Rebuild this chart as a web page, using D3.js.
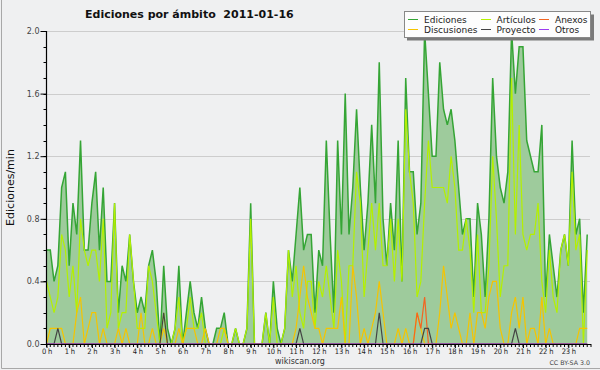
<!DOCTYPE html>
<html><head><meta charset="utf-8">
<script src="https://cdn.jsdelivr.net/npm/d3@7"></script>
<style>body{margin:0;background:#eff0f1;} svg{display:block;font-family:"DejaVu Sans",sans-serif;}</style>
</head><body>
<svg id="c" width="600" height="370"></svg>
<script>
// ---- data (one value per 10-minute slot, edits/min) ----
const hourLabels = ["0 h","1 h","2 h","3 h","4 h","5 h","6 h","7 h","8 h","9 h","10 h","11 h",
  "12 h","13 h","14 h","15 h","16 h","17 h","18 h","19 h","20 h","21 h","22 h","23 h"];
const yTicks = [0.0,0.4,0.8,1.2,1.6,2.0];
const titleText = "Ediciones por ámbito  2011-01-16";

const ediciones = [
 0.6,0.6,0.4,0.5,1.0,1.1,0.5,0.9,0.7,1.3,0.6,0.6,
 0.9,1.1,0.6,1.0,0.4,0.4,0.9,0.2,0.5,0.4,0.7,0.4,
 0.2,0.3,0.2,0.5,0.6,0.4,0.0,0.5,0.1,0.0,0.1,0.5,
 0.0,0.2,0.4,0.2,0.1,0.3,0.1,0.0,0.0,0.1,0.1,0.2,
 0.0,0.0,0.1,0.0,0.0,0.1,0.9,0.0,0.0,0.0,0.2,0.0,
 0.4,0.1,0.0,0.1,0.6,0.4,0.7,1.0,0.6,0.7,0.7,0.2,
 0.6,0.5,1.3,0.7,0.2,1.3,0.7,1.6,0.7,1.0,1.5,1.0,
 0.6,0.9,1.4,0.9,1.8,0.8,0.5,0.9,0.6,1.3,0.4,1.7,
 1.1,1.1,0.7,0.9,2.0,1.6,1.2,1.2,1.8,1.5,1.4,1.5,
 1.3,1.0,0.7,0.8,0.8,0.3,0.9,0.7,0.3,0.8,1.7,1.2,
 1.0,0.9,1.1,2.0,1.6,1.9,1.9,1.3,1.2,1.1,1.1,1.4,
 0.3,0.7,0.5,0.3,0.6,0.7,0.5,1.3,0.7,0.8,0.2,0.7];

const articulos = [
 0.4,0.3,0.2,0.3,0.7,0.6,0.3,0.5,0.2,0.8,0.6,0.5,
 0.6,0.6,0.4,0.8,0.1,0.2,0.9,0.1,0.2,0.2,0.7,0.4,
 0.1,0.1,0.1,0.5,0.4,0.2,0.0,0.2,0.0,0.0,0.1,0.3,
 0.0,0.1,0.3,0.1,0.1,0.2,0.0,0.0,0.0,0.0,0.0,0.1,
 0.0,0.0,0.1,0.0,0.0,0.1,0.8,0.0,0.0,0.0,0.2,0.0,
 0.3,0.0,0.0,0.1,0.6,0.3,0.5,0.2,0.1,0.4,0.4,0.1,
 0.4,0.3,0.5,0.3,0.1,0.6,0.4,0.0,0.5,0.5,1.1,0.9,
 0.3,0.6,0.9,0.6,0.9,0.5,0.5,0.8,0.4,0.8,0.4,1.5,
 1.1,0.9,0.3,0.4,0.9,1.3,1.0,1.0,1.0,1.0,0.9,1.2,
 1.0,0.6,0.6,0.8,0.6,0.2,0.7,0.2,0.2,0.5,1.2,0.8,
 0.3,0.5,0.5,1.7,0.7,1.4,0.7,0.6,0.7,0.7,0.9,0.4,
 0.2,0.6,0.3,0.2,0.6,0.7,0.5,1.1,0.6,0.7,0.0,0.6];

const discusiones = [
 0,0.1,0.1,0.1,0.1,0,0,0,0.2,0.3,0,0.1,
 0.2,0.2,0,0.1,0,0,0,0.1,0,0.1,0,0,
 0,0.2,0,0,0.1,0,0,0.1,0,0,0,0.1,
 0,0.1,0.1,0.1,0,0,0.1,0,0,0,0.1,0.1,
 0,0,0,0,0,0,0,0,0,0,0,0,
 0,0,0,0,0,0,0.1,0.3,0.5,0.3,0.2,0.1,
 0.1,0,0.1,0.1,0.1,0.1,0.3,0,0,0.5,0.3,0,
 0.1,0,0.1,0.2,0.4,0.2,0,0,0,0.1,0,0.1,
 0,0,0.2,0.1,0,0,0,0,0.2,0.5,0.3,0.1,
 0.2,0.1,0,0,0.2,0,0.2,0.2,0.1,0.3,0.4,0.4,
 0.1,0,0,0.2,0.3,0.1,0.3,0,0.1,0.1,0,0.3,
 0,0.1,0,0,0,0,0,0,0,0.1,0.1,0.1];

const anexos = [
 0,0,0,0,0,0,0,0,0,0,0,0,
 0,0,0,0,0,0,0,0,0,0,0,0,
 0,0,0,0,0,0,0,0,0,0,0,0,
 0,0,0,0,0,0,0,0,0,0,0,0,
 0,0,0,0,0,0,0,0,0,0,0,0,
 0,0,0,0,0,0,0,0,0,0,0,0,
 0,0,0,0,0,0,0,0,0,0,0,0,
 0,0,0,0,0,0,0,0,0,0,0,0,
 0,0,0.2,0.1,0.3,0,0,0,0,0,0,0,
 0,0,0,0,0,0,0,0,0,0,0,0,
 0,0,0,0,0,0,0,0,0,0,0,0,
 0,0,0,0,0,0,0,0,0,0,0,0];

const proyecto = [
 0,0,0,0.1,0,0,0,0,0,0,0,0,
 0,0,0,0,0,0,0,0,0,0,0,0,
 0,0,0,0,0,0,0,0.2,0,0,0,0,
 0,0,0,0,0,0,0,0,0,0,0,0,
 0,0,0,0,0,0,0,0,0,0,0,0,
 0,0,0,0,0,0,0,0.1,0,0,0,0,
 0,0,0,0,0,0,0,0,0,0,0,0,
 0,0,0,0,0.2,0,0,0,0,0,0,0,
 0,0,0,0,0.1,0.1,0,0,0,0,0,0,
 0,0,0,0,0,0,0,0,0,0,0,0,
 0,0,0,0,0.1,0,0,0,0,0,0,0,
 0,0,0,0,0,0,0,0,0,0,0,0];

const otros = [
 0,0,0,0,0,0,0,0,0,0,0,0,
 0,0,0,0,0,0,0,0,0,0,0,0,
 0,0,0,0,0,0,0,0,0,0,0,0,
 0,0,0,0,0,0,0,0,0,0,0,0,
 0,0,0,0,0,0,0,0,0,0,0,0,
 0,0,0,0,0,0,0,0,0,0,0,0,
 0,0,0,0,0,0,0,0,0,0,0,0,
 0,0,0,0,0,0,0,0,0,0,0,0,
 0,0,0,0,0,0,0,0,0,0,0,0,
 0,0,0,0,0,0,0,0,0,0,0,0,
 0,0,0,0,0,0,0,0,0,0,0,0,
 0,0,0,0,0,0,0,0,0,0,0,0];

const series = [
  {name:"Ediciones",   values:ediciones,   color:"#35a535", legend:[0,0]},
  {name:"Artículos",   values:articulos,   color:"#b4f000", legend:[1,0]},
  {name:"Discusiones", values:discusiones, color:"#f5c400", legend:[0,1]},
  {name:"Anexos",      values:anexos,      color:"#f26522", legend:[2,0]},
  {name:"Proyecto",    values:proyecto,    color:"#444444", legend:[1,1]},
  {name:"Otros",       values:otros,       color:"#9b3cf0", legend:[2,1]}
];

// ---- layout ----
const X0 = 46.5, X1 = 591, Y0 = 344, Y1 = 31;
const svg = d3.select("#c");
const x = d3.scaleLinear().domain([0, 144]).range([X0, X1]);
const y = d3.scaleLinear().domain([0, 2]).range([Y0, Y1]);

svg.append("rect").attr("width", 600).attr("height", 370).attr("fill", "#eff0f1");
svg.append("path").attr("d", "M1.5,0V368.5H600").attr("fill", "none").attr("stroke", "#a8a8a8");

// grid
svg.append("g").selectAll("line").data(yTicks.filter(d => d > 0)).join("line")
  .attr("x1", X0).attr("x2", X1 - 1)
  .attr("y1", d => Math.round(y(d)) + 0.5).attr("y2", d => Math.round(y(d)) + 0.5)
  .attr("stroke", "#cdcdcd").attr("stroke-width", 1);

// area for Ediciones
const area = d3.area().x((d, i) => x(i)).y0(Y0).y1(d => y(d));
svg.append("path").datum(ediciones).attr("d", area).attr("fill", "#9ecb9c");

const line = d3.line().x((d, i) => x(i)).y(d => y(d));
series.forEach(s => {
  svg.append("path").datum(s.values).attr("d", line)
    .attr("fill", "none").attr("stroke", s.color)
    .attr("stroke-width", s.name === "Ediciones" ? 1.5 : 1.2)
    .attr("stroke-linejoin", "miter");
});

// y axis
const gy = svg.append("g").attr("transform", `translate(${X0},0)`)
  .call(d3.axisLeft(y).tickValues(yTicks).tickSize(6).tickPadding(1).tickFormat(d3.format(".1f")));
gy.select(".domain").remove();
gy.selectAll(".tick line").attr("stroke", "#000");
gy.selectAll(".tick text").attr("font-size", 8).attr("fill", "#444").attr("font-family", "DejaVu Sans");
svg.append("g").selectAll("line").data(y.ticks(20)).join("line")
  .attr("x1", X0 - 3).attr("x2", X0)
  .attr("y1", d => Math.round(y(d)) + 0.5).attr("y2", d => Math.round(y(d)) + 0.5)
  .attr("stroke", "#000");
svg.append("line").attr("x1", X0).attr("x2", X0).attr("y1", Y1).attr("y2", Y0 + 0.5)
  .attr("stroke", "#000").attr("stroke-width", 1.2);

// x axis
const hourSlots = hourLabels.map((h, i) => i * 6);
const gx = svg.append("g").attr("transform", `translate(0,${Y0})`)
  .call(d3.axisBottom(x).tickValues(hourSlots).tickSize(4).tickPadding(1)
        .tickFormat((d, i) => hourLabels[i]));
gx.select(".domain").remove();
gx.selectAll(".tick line").attr("stroke", "#000");
gx.selectAll(".tick text").attr("font-size", 7.5).attr("fill", "#222")
  .attr("font-family", "DejaVu Sans Condensed, DejaVu Sans").style("font-stretch", "condensed")
  .attr("letter-spacing", -0.2);
svg.append("g").selectAll("line").data(d3.range(0, 145)).join("line")
  .attr("x1", d => x(d)).attr("x2", d => x(d))
  .attr("y1", Y0).attr("y2", Y0 + 3).attr("stroke", "#000");
svg.append("line").attr("x1", X0).attr("x2", X1).attr("y1", Y0 + 0.5).attr("y2", Y0 + 0.5)
  .attr("stroke", "#000").attr("stroke-width", 1.2);

// titles
svg.append("text").attr("x", 85).attr("y", 18).attr("font-size", 11).attr("font-weight", "bold")
  .attr("fill", "#111").style("white-space", "pre").text(titleText);
svg.append("text").attr("transform", `translate(14,${(Y0 + Y1) / 2}) rotate(-90)`)
  .attr("text-anchor", "middle").attr("font-size", 11).attr("fill", "#111").text("Ediciones/min");
svg.append("text").attr("x", 300).attr("y", 364).attr("text-anchor", "middle")
  .attr("font-size", 8).attr("fill", "#333").text("wikiscan.org");
svg.append("text").attr("x", 590).attr("y", 365).attr("text-anchor", "end")
  .attr("font-size", 6.3).attr("fill", "#444").text("CC BY-SA 3.0");

// legend
const lg = svg.append("g");
lg.append("rect").attr("x", 407).attr("y", 14.5).attr("width", 187).attr("height", 26).attr("fill", "#7a7a7a");
lg.append("rect").attr("x", 404.5).attr("y", 11.5).attr("width", 186).attr("height", 26)
  .attr("fill", "#fdfdfd").attr("stroke", "#888").attr("stroke-width", 1);
const colSw = [408, 481, 539], colTx = [424, 496.5, 555], rowY = [19.5, 29.5];
series.forEach(s => {
  const [c, r] = s.legend;
  lg.append("line").attr("x1", colSw[c]).attr("x2", colSw[c] + 10)
    .attr("y1", rowY[r]).attr("y2", rowY[r]).attr("stroke", s.color).attr("stroke-width", 1);
  lg.append("text").attr("x", colTx[c]).attr("y", rowY[r] + 3.2).attr("font-size", 9)
    .attr("fill", "#222").text(s.name);
});
</script>
</body></html>
